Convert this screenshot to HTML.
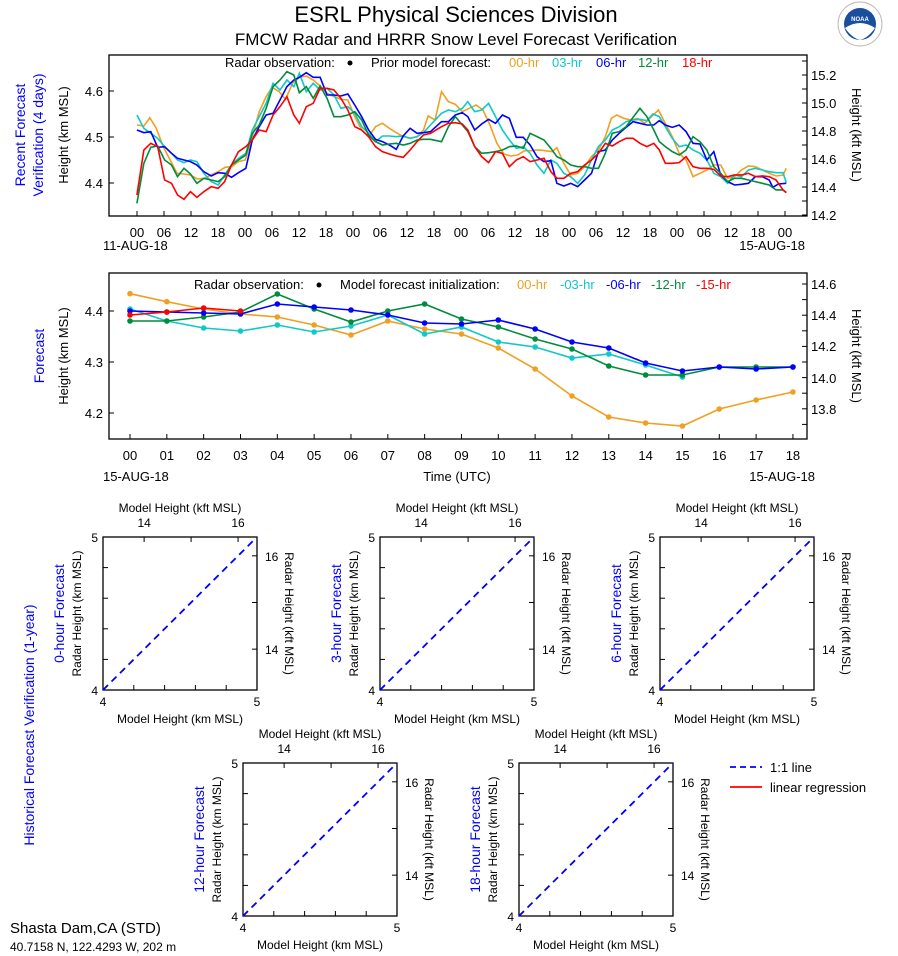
<!DOCTYPE html>
<html><head><meta charset="utf-8"><style>
html,body{margin:0;padding:0;background:#fff;}
svg{display:block;font-family:"Liberation Sans",sans-serif;}
</style></head><body>
<svg id="s" width="898" height="956" viewBox="0 0 898 956" xmlns="http://www.w3.org/2000/svg">
<text x="456" y="22" font-size="22" text-anchor="middle">ESRL Physical Sciences Division</text>
<text x="456" y="45" font-size="17" text-anchor="middle">FMCW Radar and HRRR Snow Level Forecast Verification</text>
<circle cx="860" cy="24" r="22" fill="#fff" stroke="#bbb" stroke-width="1"/>
<circle cx="860" cy="24" r="16" fill="#1a4fa0"/>
<path d="M845,28 Q860,18 875,28 Q868,38 860,40 Q852,38 845,28Z" fill="#fff"/>
<text x="860" y="21" font-size="6" fill="#fff" text-anchor="middle" font-weight="bold">NOAA</text>

<!-- TOP PANEL -->
<rect x="109" y="55" width="698" height="161" fill="none" stroke="#000" stroke-width="1.3"/>
<text x="225" y="67" font-size="13">Radar observation:</text>
<circle cx="350" cy="63" r="2.5"/>
<text x="371" y="67" font-size="13">Prior model forecast:</text>
<text x="509" y="67" font-size="13" fill="#f0a020">00-hr</text>
<text x="552" y="67" font-size="13" fill="#10c8c8">03-hr</text>
<text x="596" y="67" font-size="13" fill="#0000ff">06-hr</text>
<text x="638" y="67" font-size="13" fill="#008c3c">12-hr</text>
<text x="682" y="67" font-size="13" fill="#ff0000">18-hr</text>
<g id="topg" transform="translate(100,50) scale(0.4615,0.3333)" fill="none" stroke-width="1.6"></g>
<g font-size="13">
<text x="103" y="96" text-anchor="end">4.6</text>
<text x="103" y="142" text-anchor="end">4.5</text>
<text x="103" y="188" text-anchor="end">4.4</text>
<text x="811" y="80">15.2</text><text x="811" y="108">15.0</text><text x="811" y="136">14.8</text><text x="811" y="164">14.6</text><text x="811" y="192">14.4</text><text x="811" y="220">14.2</text>
<text x="103" y="250">11-AUG-18</text>
<text x="805" y="250" text-anchor="end">15-AUG-18</text>
</g>
<text transform="translate(25,135) rotate(-90)" font-size="14" fill="#0000ff" text-anchor="middle">Recent Forecast</text>
<text transform="translate(43,135) rotate(-90)" font-size="14" fill="#0000ff" text-anchor="middle">Verification (4 days)</text>
<text transform="translate(68,135) rotate(-90)" font-size="13" text-anchor="middle">Height (km MSL)</text>
<text transform="translate(852,135) rotate(90)" font-size="13" text-anchor="middle">Height (kft MSL)</text>

<!-- MIDDLE PANEL -->
<rect x="109" y="273" width="698" height="166" fill="none" stroke="#000" stroke-width="1.3"/>
<text x="194" y="289" font-size="13">Radar observation:</text>
<circle cx="319" cy="285" r="2.5"/>
<text x="340" y="289" font-size="13">Model forecast initialization:</text>
<text x="517" y="289" font-size="13" fill="#f0a020">00-hr</text>
<text x="560" y="289" font-size="13" fill="#10c8c8">-03-hr</text>
<text x="606" y="289" font-size="13" fill="#0000ff">-06-hr</text>
<text x="651" y="289" font-size="13" fill="#008c3c">-12-hr</text>
<text x="696" y="289" font-size="13" fill="#ff0000">-15-hr</text>
<g id="midg" fill="none" stroke-width="1.6"></g>
<g font-size="13">
<text x="103" y="316" text-anchor="end">4.4</text>
<text x="103" y="367" text-anchor="end">4.3</text>
<text x="103" y="418" text-anchor="end">4.2</text>
<text x="811" y="289">14.6</text><text x="811" y="320">14.4</text><text x="811" y="351">14.2</text><text x="811" y="383">14.0</text><text x="811" y="414">13.8</text>
<text x="103" y="481">15-AUG-18</text>
<text x="815" y="481" text-anchor="end">15-AUG-18</text>
<text x="457" y="481" text-anchor="middle">Time (UTC)</text>
</g>
<text transform="translate(44,356) rotate(-90)" font-size="14" fill="#0000ff" text-anchor="middle">Forecast</text>
<text transform="translate(68,356) rotate(-90)" font-size="13" text-anchor="middle">Height (km MSL)</text>
<text transform="translate(852,356) rotate(90)" font-size="13" text-anchor="middle">Height (kft MSL)</text>

<g id="scat"></g>
<text transform="translate(34,725) rotate(-90)" font-size="14" fill="#0000ff" text-anchor="middle">Historical Forecast Verification (1-year)</text>
<line x1="730" y1="767" x2="762" y2="767" stroke="#0000ff" stroke-width="1.8" stroke-dasharray="6,4"/>
<text x="770" y="772" font-size="13">1:1 line</text>
<line x1="730" y1="787" x2="762" y2="787" stroke="#ff0000" stroke-width="1.8"/>
<text x="770" y="792" font-size="13">linear regression</text>
<text x="10" y="933" font-size="15">Shasta Dam,CA (STD)</text>
<text x="10" y="951" font-size="12">40.7158 N, 122.4293 W, 202 m</text>
</svg>
<script>
var NS="http://www.w3.org/2000/svg";
function el(p,t,a,txt){var e=document.createElementNS(NS,t);for(var k in a)e.setAttribute(k,a[k]);if(txt!=null)e.textContent=txt;p.appendChild(e);return e;}
var s=document.getElementById("s");
var lab=["00","06","12","18"];
for(var i=0;i<=24;i++){var x=137+i*27;el(s,"line",{x1:x,y1:216,x2:x,y2:211,stroke:"#000"});
el(s,"text",{x:x,y:237,"font-size":13,"text-anchor":"middle"},lab[i%4]);}
[91,137,183].forEach(function(y){el(s,"line",{x1:109,y1:y,x2:114,y2:y,stroke:"#000"});});
for(var y=61;y<=215;y+=14){el(s,"line",{x1:807,y1:y,x2:802,y2:y,stroke:"#000"});}
var T={
"#f0a020":"80,225 95,228 108,203 122,235 137,290 152,330 167,370 182,372 196,375 211,387 226,385 241,375 256,365 271,352 286,350 300,335 315,330 330,260 345,185 360,140 373,112 388,125 402,148 417,100 432,82 447,78 462,90 477,108 492,130 507,140 522,148 537,150 552,200 567,240 582,260 597,230 612,220 627,235 642,248 657,260 672,265 687,260 701,240 711,198 726,210 740,125 755,155 770,163 785,185 800,175 815,165 830,180 845,225 860,280 875,312 890,318 905,315 920,302 935,302 950,300 965,302 980,305 990,293 1005,340 1020,375 1035,370 1050,350 1065,320 1080,300 1095,260 1108,205 1120,195 1135,205 1150,210 1165,205 1180,220 1195,200 1210,180 1225,220 1240,260 1255,310 1270,330 1285,380 1300,370 1315,360 1330,345 1345,345 1360,385 1375,380 1390,360 1405,348 1420,350 1435,360 1450,370 1465,378 1480,375 1487,355",
"#10c8c8":"80,195 95,235 110,250 125,265 140,290 155,310 168,330 182,338 196,330 210,335 225,370 241,395 256,405 270,375 285,345 300,325 316,310 330,240 345,200 360,160 375,100 390,120 405,90 420,110 432,70 447,125 462,100 477,120 492,115 507,135 522,175 537,170 552,190 567,230 582,250 597,275 612,258 627,258 642,260 657,258 672,265 687,260 701,248 716,225 740,190 755,180 770,185 785,175 797,155 812,185 827,180 842,160 857,200 872,240 887,270 902,295 917,290 932,310 947,345 962,370 977,330 990,340 1005,370 1020,380 1035,400 1050,375 1065,330 1080,290 1095,270 1110,240 1125,230 1140,215 1155,210 1170,208 1185,212 1198,192 1212,200 1225,230 1240,265 1255,290 1270,285 1285,300 1300,310 1315,330 1330,370 1345,380 1360,400 1375,375 1390,380 1405,360 1420,355 1435,360 1450,365 1465,368 1480,368 1487,398",
"#0000ff":"80,240 95,248 110,245 125,292 140,290 155,310 168,325 182,330 196,335 210,345 225,365 241,378 256,368 270,370 285,382 300,368 316,355 330,270 345,230 360,195 375,190 390,150 405,110 420,90 432,82 447,68 462,82 477,82 492,135 507,135 522,138 537,132 552,165 567,200 582,240 597,268 612,275 627,285 642,298 657,258 672,235 687,250 701,248 716,245 740,215 755,215 770,195 785,188 797,200 812,240 827,222 842,208 857,220 872,195 887,205 902,262 917,262 932,285 947,320 962,335 977,332 990,400 1005,408 1020,400 1035,410 1050,390 1065,370 1080,305 1095,300 1110,270 1125,250 1140,232 1155,215 1170,220 1185,225 1200,225 1212,212 1225,225 1240,232 1255,225 1270,245 1285,280 1300,282 1315,330 1330,305 1345,375 1360,395 1375,405 1390,403 1405,400 1420,380 1435,380 1450,390 1458,412 1470,402 1487,400",
"#008c3c":"80,460 95,340 110,292 125,288 140,330 155,345 168,380 182,355 196,372 210,400 225,385 241,390 256,395 270,380 285,345 300,330 316,315 330,250 345,225 360,175 375,110 390,90 405,65 420,75 432,128 447,110 462,145 477,108 492,145 507,200 522,200 537,195 552,185 567,210 582,255 597,275 612,285 627,282 642,280 657,285 672,280 687,270 701,268 716,268 740,275 755,230 770,200 785,225 797,245 812,290 827,310 842,308 857,305 872,300 887,290 902,288 917,295 932,250 947,260 962,270 977,295 990,320 1005,330 1020,345 1035,350 1050,350 1065,355 1080,355 1095,310 1110,250 1125,245 1140,230 1155,202 1170,175 1185,200 1200,240 1212,275 1225,290 1240,305 1255,315 1270,300 1285,260 1300,275 1315,300 1330,350 1345,370 1360,395 1375,385 1390,385 1405,390 1420,395 1435,400 1450,405 1465,420 1480,420 1487,428",
"#ff0000":"80,435 95,300 110,280 125,290 140,390 155,400 168,435 182,448 196,425 210,442 225,425 241,410 256,415 270,395 285,345 300,305 316,290 330,270 345,240 360,245 375,195 390,170 405,140 420,195 432,220 447,170 462,160 477,115 492,115 507,120 522,145 537,180 552,230 567,240 582,260 597,290 612,305 627,312 642,318 657,322 672,300 687,275 701,255 716,250 740,230 755,220 770,218 785,222 797,240 812,290 827,320 842,338 857,305 872,310 887,350 902,330 917,320 932,335 947,330 962,325 977,365 990,385 1005,385 1020,370 1035,365 1050,345 1065,330 1080,310 1095,280 1110,288 1125,275 1140,265 1155,265 1170,280 1185,290 1200,280 1212,300 1225,340 1240,340 1255,338 1270,320 1285,350 1300,355 1315,355 1330,358 1345,378 1360,380 1375,375 1390,375 1405,370 1420,380 1435,378 1450,380 1465,390 1480,420 1487,428"};
var tg=document.getElementById("topg");
["#f0a020","#10c8c8","#0000ff","#008c3c","#ff0000"].forEach(function(c){el(tg,"polyline",{points:T[c],stroke:c,"vector-effect":"non-scaling-stroke"});});
for(var i=0;i<=18;i++){var x=130+i*36.83;el(s,"line",{x1:x,y1:439,x2:x,y2:434,stroke:"#000"});
el(s,"text",{x:x,y:460,"font-size":13,"text-anchor":"middle"},(i<10?"0":"")+i);}
[311,362,413].forEach(function(y){el(s,"line",{x1:109,y1:y,x2:114,y2:y,stroke:"#000"});});
for(var y=284;y<=425;y+=15.6){el(s,"line",{x1:807,y1:y,x2:802,y2:y,stroke:"#000"});}
var M={
"#f0a020":[293.7,301.7,309,314,317,325,335,321,329,334,348,369,396,417,423,426,409,400,392],
"#10c8c8":[309,321,328,331,325,332,326,315,334,327,342,347,358,354,365,377],
"#008c3c":[321,321,317,312,294,309,322,311,304,319,327,339,349,366,375,375,367,367,367],
"#0000ff":[311,312,313,314,304,307,310,315,323,324,320,329,342,348,363,371,367,369,367],
"#ff0000":[315,312,308,311]};
var mg=document.getElementById("midg");
["#f0a020","#10c8c8","#008c3c","#0000ff","#ff0000"].forEach(function(c){var d=M[c],p=[];
d.forEach(function(v,i){var x=130+i*36.83;p.push(x+","+v);el(mg,"circle",{cx:x,cy:v,r:2.8,fill:c,stroke:"none"});});
el(mg,"polyline",{points:p.join(" "),stroke:c});});
var sc=document.getElementById("scat");
function panel(x0,y0,name){var w=154,h=153;
el(sc,"rect",{x:x0,y:y0,width:w,height:h,fill:"none",stroke:"#000","stroke-width":1.3});
el(sc,"line",{x1:x0,y1:y0+h,x2:x0+w,y2:y0,stroke:"#0000ff","stroke-width":1.8,"stroke-dasharray":"7,5"});
for(var i=1;i<5;i++){var tx=x0+w*i/5,ty=y0+h*i/5;
el(sc,"line",{x1:tx,y1:y0+h,x2:tx,y2:y0+h-5,stroke:"#000"});
el(sc,"line",{x1:x0,y1:ty,x2:x0+5,y2:ty,stroke:"#000"});}
[[14,4.267],[15,4.572],[16,4.877]].forEach(function(k){var fx=x0+(k[1]-4)*w,fy=y0+h-(k[1]-4)*h;
el(sc,"line",{x1:fx,y1:y0,x2:fx,y2:y0+5,stroke:"#000"});
el(sc,"line",{x1:x0+w,y1:fy,x2:x0+w-5,y2:fy,stroke:"#000"});
if(k[0]!=15){el(sc,"text",{x:fx,y:y0-10,"font-size":12,"text-anchor":"middle"},k[0]);
el(sc,"text",{x:x0+w+8,y:fy+5,"font-size":12},k[0]);}});
el(sc,"text",{x:x0+w/2,y:y0-25,"font-size":12,"text-anchor":"middle"},"Model Height (kft MSL)");
el(sc,"text",{x:x0+w/2,y:y0+h+33,"font-size":12,"text-anchor":"middle"},"Model Height (km MSL)");
el(sc,"text",{x:x0,y:y0+h+16,"font-size":12,"text-anchor":"middle"},"4");
el(sc,"text",{x:x0+w,y:y0+h+16,"font-size":12,"text-anchor":"middle"},"5");
el(sc,"text",{x:x0-5,y:y0+5,"font-size":12,"text-anchor":"end"},"5");
el(sc,"text",{x:x0-5,y:y0+h+5,"font-size":12,"text-anchor":"end"},"4");
el(sc,"text",{transform:"translate("+(x0-22)+","+(y0+h/2)+") rotate(-90)","font-size":12,"text-anchor":"middle"},"Radar Height (km MSL)");
el(sc,"text",{transform:"translate("+(x0-39)+","+(y0+h/2)+") rotate(-90)","font-size":14,fill:"#0000ff","text-anchor":"middle"},name);
el(sc,"text",{transform:"translate("+(x0+w+28)+","+(y0+h/2)+") rotate(90)","font-size":12,"text-anchor":"middle"},"Radar Height (kft MSL)");}
panel(103,537,"0-hour Forecast");
panel(380,537,"3-hour Forecast");
panel(660,537,"6-hour Forecast");
panel(243,763,"12-hour Forecast");
panel(519,763,"18-hour Forecast");
</script>
</body></html>
